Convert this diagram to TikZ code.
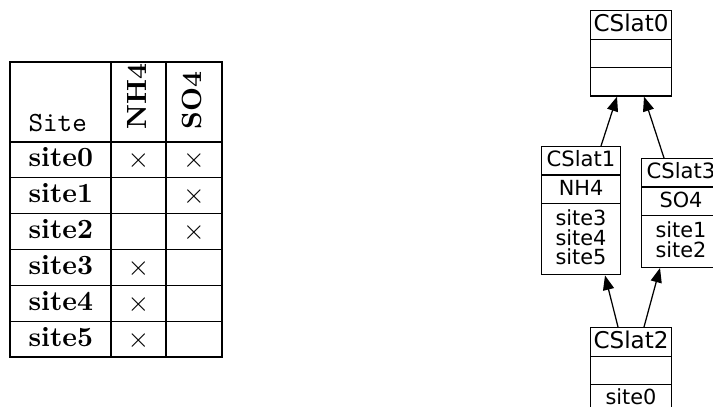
\documentclass[tikz,border=0pt]{standalone}
\usepackage{fontspec}
\usepackage{tikz}
\usetikzlibrary{arrows.meta,calc,shapes.multipart}
\newfontfamily\latfont{DejaVu Sans}
\newcommand{\partstrut}{\rule[-1.9pt]{0pt}{8.1pt}}
\newcommand{\siteline}[1]{\raisebox{0pt}[7pt][0pt]{#1}}
\newcommand{\laststrut}{\rule[-2.6pt]{0pt}{0pt}}
\newcommand{\sitelist}[1]{{\renewcommand{\arraystretch}{0}\begin{tabular}{@{}c@{}}#1\laststrut\end{tabular}}}
\newcommand{\bigtitle}{\fontsize{8.3}{9}\selectfont}
\newcommand{\midtitle}{\fontsize{7.6}{8}\selectfont}

\begin{document}
\begin{tikzpicture}[x=0.36pt,y=-0.36pt,>={Triangle[length=5.2pt,width=4pt]},
 tabline/.style={line width=0.4pt},
 rowlabel/.style={anchor=base west,inner sep=0pt,font=\bfseries},
 colhead/.style={rotate=90,anchor=west,inner sep=0pt,font=\bfseries},
 crossmark/.style={inner sep=0pt},
 latbox/.style={draw,line width=0.5pt,rectangle split,rectangle split parts=3,minimum width=28.6pt,inner xsep=1pt,inner ysep=0.8pt,anchor=north,font=\latfont\fontsize{7.5}{8}\selectfont},
 latedge/.style={->,line width=0.45pt}]
\useasboundingbox (0,0) rectangle (713,407);
\draw[tabline] (10,62) rectangle (222,357);
\draw[tabline] (111,62) -- (111,357) (166,62) -- (166,357);
\foreach \r in {0,...,5}
  \draw[tabline] (10,{142+35.83*\r}) -- (222,{142+35.83*\r});
\node[anchor=base west,inner sep=0pt,font=\ttfamily] (site) at (28,132) {Site};
\node[colhead] (nh4) at (137,130) {NH4};
\node[colhead] (so4) at (192,130) {SO4};
\foreach \r in {0,...,5}
  \node[rowlabel] (site\r) at (28,{167+35.83*\r}) {site\r};
\foreach \r/\c/\x in {0/nh/138.5,0/so/194,1/so/194,2/so/194,3/nh/138.5,4/nh/138.5,5/nh/138.5}
  \node[crossmark] (x\c\r) at (\x,{161+35.83*\r}) {$\times$};
\node[latbox] (CSlat0) at (631,10) {\bigtitle\partstrut CSlat0\nodepart{two}\partstrut\nodepart{three}\partstrut};
\node[latbox] (CSlat1) at (581,146) {\midtitle\partstrut CSlat1\nodepart{two}\partstrut NH4\nodepart{three}\sitelist{\siteline{site3}\\\siteline{site4}\\\siteline{site5}}};
\node[latbox] (CSlat3) at (681,158) {\midtitle\partstrut CSlat3\nodepart{two}\partstrut SO4\nodepart{three}\sitelist{\siteline{site1}\\\siteline{site2}}};
\node[latbox] (CSlat2) at (631,327) {\bigtitle\partstrut CSlat2\nodepart{two}\partstrut\nodepart{three}\partstrut site0};
\draw[latedge] ($(CSlat1.north)+(20,0)$) -- ($(CSlat0.south)+(-14,0)$);
\draw[latedge] ($(CSlat3.north)+(-17,0)$) -- ($(CSlat0.south)+(13,0)$);
\draw[latedge] ($(CSlat2.north)+(-13,0)$) -- ($(CSlat1.south)+(24,0)$);
\draw[latedge] ($(CSlat2.north)+(13,0)$) -- ($(CSlat3.south)+(-21,0)$);
\end{tikzpicture}
\end{document}
